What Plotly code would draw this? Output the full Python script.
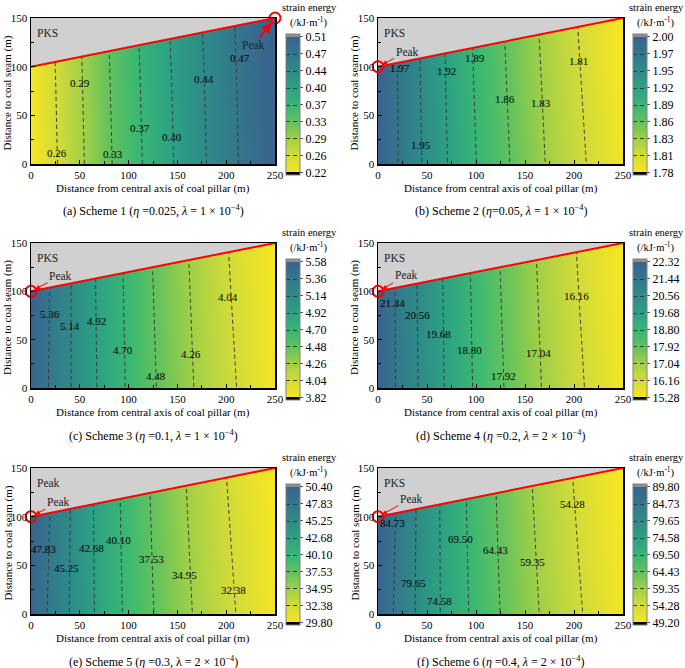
import numpy as np
import plotly.graph_objects as go
from plotly.subplots import make_subplots

FONT = "Liberation Serif"
W, H = 685, 668

# ---------------- data ----------------
x_grid = [0, 25, 50, 75, 100, 125, 150, 175, 200, 225, 250]
y_grid = [0, 100, 150]
boundary_x = [0, 250]
boundary_y = [100, 150]
y_top = 150

# strain energy (kJ/m): rows = y_grid, columns = x_grid
z_s1 = [
    [0.2205, 0.2534, 0.2865, 0.3190, 0.3489, 0.3775, 0.4055, 0.4322, 0.4598, 0.4875, 0.5060],
    [0.2235, 0.2564, 0.2895, 0.3220, 0.3519, 0.3805, 0.4085, 0.4352, 0.4628, 0.4895, 0.5080],
    [0.2255, 0.2584, 0.2915, 0.3240, 0.3539, 0.3825, 0.4105, 0.4372, 0.4648, 0.4912, 0.5100],
]
z_s2 = [
    [1.9970, 1.9672, 1.9389, 1.9133, 1.8903, 1.8701, 1.8504, 1.8318, 1.8156, 1.7995, 1.7846],
    [2.0000, 1.9658, 1.9369, 1.9109, 1.8873, 1.8669, 1.8468, 1.8283, 1.8117, 1.7951, 1.7801],
    [1.9990, 1.9651, 1.9359, 1.9097, 1.8858, 1.8653, 1.8450, 1.8265, 1.8097, 1.7929, 1.7800],
]
z_s3 = [
    [5.550, 5.284, 5.059, 4.861, 4.674, 4.501, 4.353, 4.215, 4.092, 3.970, 3.851],
    [5.580, 5.291, 5.055, 4.848, 4.660, 4.482, 4.332, 4.193, 4.064, 3.939, 3.830],
    [5.580, 5.295, 5.053, 4.842, 4.652, 4.472, 4.322, 4.182, 4.050, 3.923, 3.820],
]
z_s4 = [
    [22.200, 21.134, 20.236, 19.444, 18.696, 18.004, 17.412, 16.860, 16.368, 15.880, 15.404],
    [22.320, 21.050, 20.220, 19.392, 18.640, 17.928, 17.328, 16.772, 16.256, 15.756, 15.320],
    [22.320, 21.000, 20.212, 19.368, 18.608, 17.888, 17.288, 16.728, 16.200, 15.692, 15.280],
]
z_s5 = [
    [49.79, 46.780, 44.095, 41.720, 39.540, 37.595, 35.913, 34.347, 32.926, 31.537, 30.167],
    [50.40, 47.035, 44.100, 41.574, 39.370, 37.338, 35.625, 34.027, 32.550, 31.127, 29.850],
    [50.40, 47.160, 44.100, 41.500, 39.285, 37.210, 35.480, 33.867, 32.360, 30.920, 29.800],
]
z_s6 = [
    [88.60, 82.40, 77.07, 72.485, 68.25, 64.36, 61.12, 58.08, 55.26, 52.48, 49.72],
    [89.80, 82.64, 77.18, 72.220, 67.80, 63.83, 60.47, 57.37, 54.45, 51.60, 49.45],
    [89.80, 82.76, 77.24, 72.090, 67.58, 63.56, 60.15, 57.01, 54.04, 51.16, 49.20],
]

cbar_low = [0.22, 1.78, 3.82, 15.28, 29.80, 49.20]
cbar_high = [0.51, 2.00, 5.58, 22.32, 50.40, 89.80]
cbar_text_s1 = ["0.22", "0.26", "0.29", "0.33", "0.37", "0.40", "0.44", "0.47", "0.51"]
cbar_text_s2 = ["1.78", "1.81", "1.83", "1.86", "1.89", "1.92", "1.95", "1.97", "2.00"]
cbar_text_s3 = ["3.82", "4.04", "4.26", "4.48", "4.70", "4.92", "5.14", "5.36", "5.58"]
cbar_text_s4 = ["15.28", "16.16", "17.04", "17.92", "18.80", "19.68", "20.56", "21.44", "22.32"]
cbar_text_s5 = ["29.80", "32.38", "34.95", "37.53", "40.10", "42.68", "45.25", "47.83", "50.40"]
cbar_text_s6 = ["49.20", "54.28", "59.35", "64.43", "69.50", "74.58", "79.65", "84.73", "89.80"]

# contour label positions (ascending level order)
label_x_s1 = [26.3, 50.0, 83.6, 111.5, 144.6, 177.0, 214.5]
label_y_s1 = [11.7, 83.0, 10.3, 37.4, 28.0, 87.5, 109.0]
label_x_s2 = [205.0, 166.0, 130.0, 98.6, 69.7, 44.2, 22.0]
label_y_s2 = [105.4, 62.5, 66.6, 108.8, 95.8, 19.6, 98.5]
label_x_s3 = [202.0, 164.4, 128.0, 93.8, 67.2, 40.0, 19.4]
label_y_s3 = [94.0, 35.2, 12.0, 39.0, 69.0, 64.5, 76.9]
label_x_s4 = [203.0, 163.4, 127.9, 93.1, 61.4, 40.0, 15.3]
label_y_s4 = [95.0, 35.7, 12.7, 39.1, 56.3, 75.5, 88.2]
label_x_s5 = [207.0, 157.6, 123.5, 89.4, 62.0, 36.5, 12.6]
label_y_s5 = [24.7, 40.2, 56.3, 76.2, 68.3, 47.0, 67.0]
label_x_s6 = [198.5, 158.0, 120.4, 84.6, 62.4, 36.5, 15.3]
label_y_s6 = [113.0, 53.4, 66.2, 76.6, 13.1, 32.0, 93.8]

peak_x = [250, 0, 0, 0, 0, 0]
peak_y = [150, 100, 100, 100, 100, 100]
peak_text_x = [228, 29.6, 30.4, 29.0, 28.0, 34.0]
peak_text_y = [122, 115.4, 116.0, 116.4, 114.7, 118.6]
region_text = ["PKS", "PKS", "PKS", "PKS", "Peak", "PKS"]

captions = [
    "(a) Scheme 1 (<i>η</i> =0.025, <i>λ</i> = 1 × 10<sup>−4</sup>)",
    "(b) Scheme 2 (<i>η</i>=0.05, <i>λ</i> = 1 × 10<sup>−4</sup>)",
    "(c) Scheme 3 (<i>η</i> =0.1, <i>λ</i> = 1 × 10<sup>−4</sup>)",
    "(d) Scheme 4 (<i>η</i> =0.2, <i>λ</i> = 2 × 10<sup>−4</sup>)",
    "(e) Scheme 5 (<i>η</i> =0.3, λ = 2 × 10<sup>−4</sup>)",
    "(f) Scheme 6 (<i>η</i> =0.4, <i>λ</i> = 2 × 10<sup>−4</sup>)",
]

Z = [z_s1, z_s2, z_s3, z_s4, z_s5, z_s6]
CBT = [cbar_text_s1, cbar_text_s2, cbar_text_s3, cbar_text_s4, cbar_text_s5, cbar_text_s6]
LX = [label_x_s1, label_x_s2, label_x_s3, label_x_s4, label_x_s5, label_x_s6]
LY = [label_y_s1, label_y_s2, label_y_s3, label_y_s4, label_y_s5, label_y_s6]

# ---------------- layout geometry (pixels) ----------------
col_dom = [(31, 275), (378, 623)]
row_dom = [(18, 164), (243, 388), (468, 614)]
cb_left = [286, 633]
cb_len = 141
cb_title_x = [309, 656]


def px_x(p):
    return p / W


def px_y(p):
    return 1 - p / H


base_stops = [(0.00, '#f8e623'), (0.15, '#cad93c'), (0.25, '#a0d046'), (0.36, '#66c35c'),
              (0.48, '#3ab872'), (0.61, '#2da383'), (0.75, '#2e8a88'), (0.88, '#34768c'),
              (1.00, '#3a618e')]
fext = 0.018

fig = make_subplots(rows=3, cols=2)
anns = []


def paper_ann(x, y, text, size, **kw):
    d = dict(x=px_x(x), y=px_y(y), xref='paper', yref='paper', text=text,
             showarrow=False, xanchor='center', yanchor='middle',
             font=dict(family=FONT, size=size, color='black'))
    d.update(kw)
    return d


for i in range(6):
    r, c = divmod(i, 2)
    xs = '' if i == 0 else str(i + 1)
    xref, yref = 'x' + xs, 'y' + xs
    lo, hi = cbar_low[i], cbar_high[i]
    step = (hi - lo) / 8
    ext = fext * (hi - lo) / (1 - 2 * fext)
    cs = [[0, '#000000'], [fext, '#000000']]
    cs += [[fext + (1 - 2 * fext) * p, col] for p, col in base_stops]
    cs += [[1 - fext, '#8f8f8f'], [1, '#8f8f8f']]
    tickvals = list(np.linspace(lo, hi, 9))

    cb_top = row_dom[r][0] + 16
    fig.add_trace(go.Contour(
        x=x_grid, y=y_grid, z=Z[i],
        zmin=lo - ext, zmax=hi + ext, zauto=False,
        colorscale=cs,
        contours=dict(start=lo + step, end=hi - 0.5 * step, size=step,
                      coloring='heatmap', showlabels=False),
        line=dict(color='#3a3a3a', width=1, dash='4px,3px'),
        hoverinfo='skip',
        colorbar=dict(
            x=px_x(cb_left[c]), xanchor='left', xref='paper',
            y=px_y(cb_top + cb_len / 2), yanchor='middle', yref='paper',
            len=cb_len, lenmode='pixels', thickness=14, thicknessmode='pixels',
            xpad=0, ypad=0, outlinecolor='#808080', outlinewidth=1,
            tickvals=tickvals, ticktext=CBT[i], ticks='outside', ticklen=3,
            tickcolor='#555555', tickfont=dict(family=FONT, size=12, color='black'),
        ),
    ), row=r + 1, col=c + 1)

    # gray region above boundary
    fig.add_trace(go.Scatter(
        x=boundary_x + [boundary_x[0]], y=boundary_y + [y_top],
        mode='lines', fill='toself', fillcolor='#d0d0d0',
        line=dict(width=0, color='#d0d0d0'), hoverinfo='skip', showlegend=False,
    ), row=r + 1, col=c + 1)
    # red boundary
    fig.add_trace(go.Scatter(
        x=boundary_x, y=boundary_y, mode='lines',
        line=dict(color='#ff0000', width=2), cliponaxis=False,
        hoverinfo='skip', showlegend=False,
    ), row=r + 1, col=c + 1)
    # peak circle
    fig.add_trace(go.Scatter(
        x=[peak_x[i]], y=[peak_y[i]], mode='markers',
        marker=dict(symbol='circle-open', size=11, color='#ff0000',
                    line=dict(color='#ff0000', width=2)),
        cliponaxis=False, hoverinfo='skip', showlegend=False,
    ), row=r + 1, col=c + 1)

    x0, x1 = col_dom[c]
    y0, y1 = row_dom[r]
    axis_common = dict(showline=True, linecolor='black', linewidth=1.5, mirror=True,
                       showgrid=False, zeroline=False, ticks='inside', ticklen=4,
                       tickcolor='black', tickwidth=1,
                       tickfont=dict(family=FONT, size=11, color='black'),
                       minor=dict(dtick=25, ticks='inside', ticklen=3, tickcolor='black'))
    fig.update_layout({
        'xaxis' + xs: dict(domain=[px_x(x0), px_x(x1)], range=[0, 250], dtick=50,
                           tick0=0, **axis_common),
        'yaxis' + xs: dict(domain=[px_y(y1), px_y(y0)], range=[0, 150], dtick=50,
                           tick0=0, **axis_common),
    })

    # contour labels
    labels = CBT[i][1:8]
    for k in range(7):
        anns.append(dict(x=LX[i][k], y=LY[i][k], xref=xref, yref=yref, text=labels[k],
                         showarrow=False, xanchor='center', yanchor='middle',
                         font=dict(family=FONT, size=11, color='black')))
    # region text
    anns.append(dict(x=4.5, y=135, xref=xref, yref=yref, text=region_text[i],
                     xanchor='left', yanchor='middle', showarrow=False,
                     font=dict(family=FONT, size=11.5, color='#222222')))
    # peak pointer
    big = (i == 0)
    anns.append(dict(x=peak_x[i], y=peak_y[i], xref=xref, yref=yref,
                     ax=peak_text_x[i], ay=peak_text_y[i], axref=xref, ayref=yref,
                     text='Peak', showarrow=True, arrowcolor='#ff0000',
                     xanchor='center', yanchor='middle',
                     arrowwidth=2 if big else 1, arrowhead=2, arrowsize=1 if big else 0.9,
                     standoff=6 if big else 5,
                     font=dict(family=FONT, size=11.5, color='#222222')))
    cx = (x0 + x1) / 2
    # axis titles
    anns.append(paper_ann(cx, y1 + 24.5, 'Distance from central axis of coal pillar (m)', 11))
    anns.append(paper_ann(x0 - 23.5, (y0 + y1) / 2 + 2, 'Distance to coal seam (m)', 11,
                          textangle=-90))
    # caption
    anns.append(paper_ann(cx, y1 + 47, captions[i], 12))
    # colorbar title
    anns.append(paper_ann(cb_title_x[c], y0 - 11, 'strain energy', 10.5))
    anns.append(paper_ann(cb_title_x[c], y0 + 4, '(/kJ·m<sup>-1</sup>)', 10.5))

fig.update_layout(
    width=W, height=H,
    margin=dict(l=0, r=0, t=0, b=0, pad=0, autoexpand=False),
    paper_bgcolor='white', plot_bgcolor='white', showlegend=False,
    font=dict(family=FONT, color='black'),
    annotations=anns,
)

fig.write_html("out.html",
               config={'displayModeBar': False, 'staticPlot': True},
               post_script="document.body.style.margin='0px';document.body.style.padding='0px';"
                           "document.body.style.overflow='hidden';")
